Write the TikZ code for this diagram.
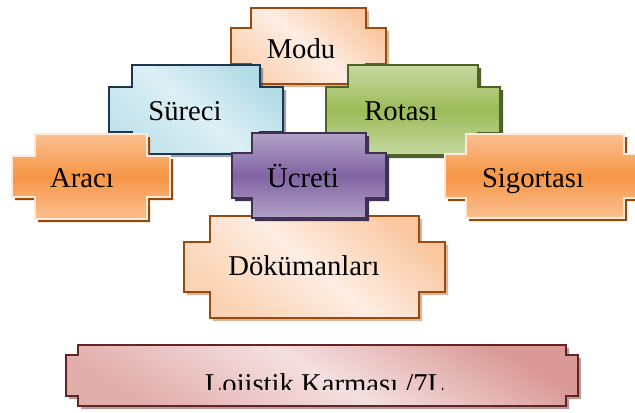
\documentclass[tikz,border=0pt]{standalone}
\usepackage{fontspec}
\setmainfont{Liberation Serif}
\usepackage{xcolor}

\definecolor{peachline}{HTML}{9A4A0C}
\definecolor{peachdark}{HTML}{FAC7A0}
\definecolor{peachlight}{HTML}{FDEDE3}
\definecolor{blueline}{HTML}{1F3550}
\definecolor{bluedark}{HTML}{B2DBE6}
\definecolor{bluelight}{HTML}{DCEFF4}
\definecolor{greenline}{HTML}{4F6228}
\definecolor{greenlight}{HTML}{C6D9A0}
\definecolor{greenmid}{HTML}{9BBB59}
\definecolor{orangeline}{HTML}{FDE9D9}
\definecolor{orangeshade}{HTML}{984807}
\definecolor{orangelight}{HTML}{FAC090}
\definecolor{orangemid}{HTML}{F79646}
\definecolor{purpleline}{HTML}{3F3151}
\definecolor{purplelight}{HTML}{B3A2C7}
\definecolor{purplemid}{HTML}{8064A2}
\definecolor{pinkline}{HTML}{632523}
\definecolor{pinkdark}{HTML}{DA9896}
\definecolor{pinklight}{HTML}{F4E0DF}

% notched plaque outline: left, top, right, bottom, notch width, notch height
\newcommand{\notchpath}[6]{(#1+#5,#2) -- (#3-#5,#2) -- (#3-#5,#2+#6) -- (#3,#2+#6) -- (#3,#4-#6) -- (#3-#5,#4-#6) -- (#3-#5,#4) -- (#1+#5,#4) -- (#1+#5,#4-#6) -- (#1,#4-#6) -- (#1,#2+#6) -- (#1+#5,#2+#6) -- cycle}
\newcommand{\plaque}[7]{%
  \fill[#1 shadow,shift={(3,3)}] \notchpath{#2}{#3}{#4}{#5}{#6}{#7};
  \draw[#1 box] \notchpath{#2}{#3}{#4}{#5}{#6}{#7};}

\begin{document}
\begin{tikzpicture}[x=0.75pt,y=-0.75pt,line width=1.8pt,
  peach box/.style={draw=peachline,top color=peachdark,bottom color=peachdark!80!white,middle color=peachlight,shading angle=-40},
  peach shadow/.style={fill=peachline,opacity=0.4},
  blue box/.style={draw=blueline,top color=bluedark,bottom color=bluedark!80!white,middle color=bluelight,shading angle=-40},
  blue shadow/.style={fill=blueline,opacity=0.45},
  green box/.style={draw=greenline,top color=greenlight,bottom color=greenlight,middle color=greenmid},
  green shadow/.style={fill=greenline},
  orange box/.style={draw=orangeline,top color=orangelight,bottom color=orangelight,middle color=orangemid},
  orange shadow/.style={fill=orangeshade},
  purple box/.style={draw=purpleline,top color=purplelight,bottom color=purplelight,middle color=purplemid},
  purple shadow/.style={fill=purpleline},
  pink box/.style={draw=pinkline,top color=pinkdark,bottom color=pinkdark!80!white,middle color=pinklight,shading angle=-30},
  pink shadow/.style={fill=pinkline,opacity=0.45},
  box label/.style={anchor=base,inner sep=0pt,font=\fontsize{21.5}{26}\selectfont}]
\clip (0,0) rectangle (635,412);
\fill[white] (0,0) rectangle (635,412);
\begin{scope}
\plaque{peach}{231}{8}{386}{84}{20}{20}
\plaque{blue}{109}{65}{283}{154}{23}{22}
\plaque{green}{326}{65}{500}{155}{22}{22}
\plaque{orange}{12}{134}{170}{219}{23}{22}
\plaque{orange}{445}{134}{645}{218}{21}{20}
\plaque{peach}{184}{216}{445}{318}{26}{26}
\plaque{purple}{232}{133}{386}{218}{20}{20}
\plaque{pink}{66}{345}{578}{406}{12}{10}
\end{scope}
\begin{scope}[every node/.style={box label}]
\node (modu) at (301,58) {Modu};
\node (sureci) at (185,120) {Süreci};
\node (rotasi) at (401,120) {Rotası};
\node (araci) at (82,187) {Aracı};
\node (sigortasi) at (533,187) {Sigortası};
\node (ucreti) at (303,187) {Ücreti};
\node (dokumanlari) at (304,275) {Dökümanları};
\begin{scope}
\clip (66,345) rectangle (578,389);
\node (lojistik) at (325,393) {Lojistik Karması /7L};
\end{scope}
\end{scope}
\end{tikzpicture}
\end{document}
